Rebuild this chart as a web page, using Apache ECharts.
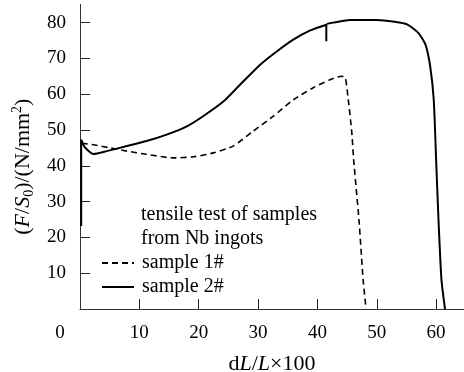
<!DOCTYPE html>
<html>
<head>
<meta charset="utf-8">
<script src="https://cdn.jsdelivr.net/npm/echarts@6/dist/echarts.min.js"></script>
<style>html,body{margin:0;padding:0;background:#fff}#c{width:464px;height:372px}</style>
</head>
<body>
<div id="c"></div>
<script>
// ---- data ----
var seriesNames = ['sample 1#', 'sample 2#'];
var sample1 = [
  [0.3, 46.3], [2.5, 45.8], [5.1, 45.0], [7.9, 44.1], [11.2, 43.2], [15.7, 42.2],
  [19.1, 42.5], [22.5, 43.6], [25.8, 45.5], [29.2, 49.7], [32.6, 53.9], [36.0, 58.5],
  [39.3, 61.8], [42.2, 64.1], [44.1, 65.0], [44.7, 64.6], [45.2, 58.5], [45.8, 49.2],
  [46.1, 41.8], [47.0, 25.0], [47.7, 8.2], [48.2, 0]
];
var sample2 = [
  [0.2, 23.2], [0.2, 47.3], [0.8, 45.2], [2.25, 43.3], [4.5, 44.1], [7.9, 45.5],
  [11.2, 46.9], [14.6, 48.7], [18.0, 51.0], [20.8, 53.9], [24.2, 58.0], [27.0, 62.7],
  [30.4, 68.3], [33.2, 72.0], [36.0, 75.3], [38.8, 77.8], [41.5, 79.4], [41.5, 74.8],
  [41.5, 79.4], [43.5, 80.2], [45.5, 80.7], [50.0, 80.7], [53.0, 80.2], [55.1, 79.5],
  [57.0, 77.1], [58.2, 73.9], [59.0, 67.8], [59.6, 58.5], [60.0, 41.8], [60.4, 25.0],
  [60.9, 8.2], [61.5, 0]
];
var xTicks = [10, 20, 30, 40, 50, 60];
var xLabels = [0, 10, 20, 30, 40, 50, 60];
var yTicks = [10, 20, 30, 40, 50, 60, 70, 80];
var noteText = 'tensile test of samples\nfrom Nb ingots';

var FONT = '"Liberation Serif","Times New Roman",serif';
var chart = echarts.init(document.getElementById('c'));
chart.setOption({
  animation: false,
  backgroundColor: '#fff',
  grid: { left: 80, right: 0, top: 4.3, bottom: 63, containLabel: false, outerBoundsMode: 'none' },
  title: {
    text: noteText,
    left: 141, top: 203, padding: 0,
    textStyle: { fontFamily: FONT, fontSize: 20, fontWeight: 'normal', color: '#000', lineHeight: 24 }
  },
  legend: {
    orient: 'vertical', left: 101, top: 253, padding: 0,
    itemWidth: 32, itemHeight: 14, itemGap: 4,
    data: seriesNames,
    itemStyle: { opacity: 0 },
    textStyle: { fontFamily: FONT, fontSize: 20, lineHeight: 20, color: '#000', padding: [0, 0, 0, 3] }
  },
  xAxis: {
    type: 'value', min: 0, max: 64.7, interval: 10,
    name: 'd{i|L}/{i|L}×100', nameLocation: 'middle', nameGap: 44,
    nameTextStyle: { fontFamily: FONT, fontSize: 22, color: '#000',
      rich: { i: { fontFamily: FONT, fontSize: 22, fontStyle: 'italic', color: '#000' } } },
    splitLine: { show: false },
    axisLine: { show: true, lineStyle: { color: '#333', width: 1 } },
    axisTick: { show: true, inside: true, length: 10, customValues: xTicks, lineStyle: { color: '#222' } },
    axisLabel: {
      customValues: xLabels, margin: 15, fontFamily: FONT, fontSize: 19, color: '#000',
      formatter: function (v) { return v === 0 ? '{z|0}' : String(v); },
      rich: { z: { fontFamily: FONT, fontSize: 19, color: '#000', padding: [0, 40, 0, 0] } }
    }
  },
  yAxis: {
    type: 'value', min: 0, max: 85.1, interval: 10,
    name: '({i|F}/{i|S}{sub|0})/(N/mm{sup|2})', nameLocation: 'middle', nameGap: 37,
    nameTextStyle: { fontFamily: FONT, fontSize: 22, color: '#000', lineHeight: 26, padding: [0, 20, 0, 0],
      rich: {
        i: { fontFamily: FONT, fontSize: 22, fontStyle: 'italic', color: '#000', lineHeight: 26 },
        sub: { fontFamily: FONT, fontSize: 14, color: '#000', lineHeight: 14, verticalAlign: 'bottom' },
        sup: { fontFamily: FONT, fontSize: 14, color: '#000', lineHeight: 14, verticalAlign: 'top' }
      } },
    splitLine: { show: false },
    axisLine: { show: true, lineStyle: { color: '#333', width: 1 } },
    axisTick: { show: true, inside: true, length: 10, customValues: yTicks, lineStyle: { color: '#222' } },
    axisLabel: { customValues: yTicks, margin: 14, fontFamily: FONT, fontSize: 19, color: '#000' }
  },
  series: [
    { name: seriesNames[0], type: 'line', data: sample1, showSymbol: false, symbol: 'none', smooth: 0.2,
      lineStyle: { color: '#000', width: 1.6, type: [6, 4] }, itemStyle: { color: '#000' } },
    { name: seriesNames[1], type: 'line', data: sample2, showSymbol: false, symbol: 'none', smooth: 0.2,
      lineStyle: { color: '#000', width: 2 }, itemStyle: { color: '#000' } }
  ]
});
</script>
</body>
</html>
